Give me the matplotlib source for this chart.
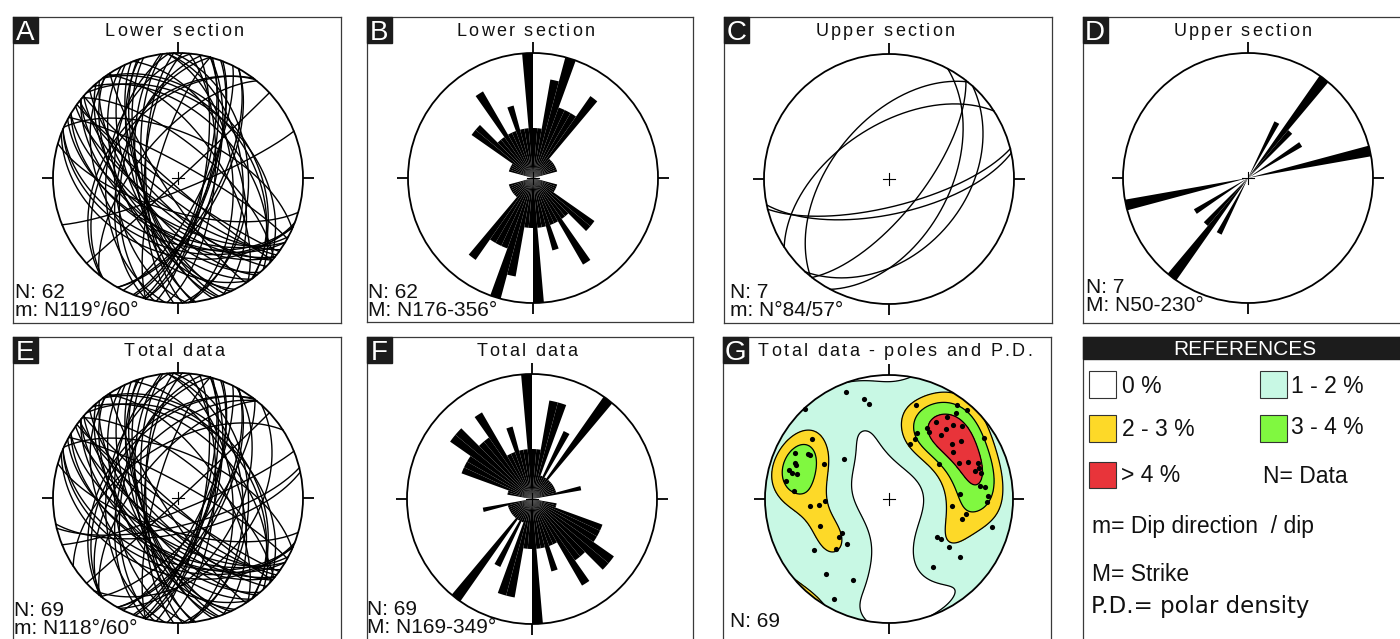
import numpy as np
import matplotlib
matplotlib.use('Agg')
import matplotlib.pyplot as plt
from matplotlib.patches import Circle, Rectangle, Wedge
from matplotlib.font_manager import FontProperties, findfont, get_font

plt.rcParams['font.family'] = ['Liberation Sans', 'DejaVu Sans']

# planes (dip direction / dip, degrees) - lower section
lower_dipdir = [158, 137, 116, 119, 119, 111, 110, 106, 105, 105, 100, 95,
                85, 85, 88, 69, 53, 54, 43, 47, 56, 40, 24, 29,
                196, 216, 221, 215, 218, 211, 208, 203, 203, 201, 211, 221, 219, 219, 225, 231,
                229, 234, 237, 235,
                243, 245, 248, 252, 254, 251, 262, 263, 266, 268, 272, 276, 281, 285, 285, 308,
                307, 309]
lower_dip = [82, 89, 73, 64, 62, 70, 69, 73, 70, 66, 73, 66,
             54, 47, 43, 50, 42, 39, 41, 49, 62, 68, 61, 81,
             68, 83, 85, 70, 77, 62, 55, 48, 44, 39, 53, 68, 56, 62, 72, 64,
             57, 54, 80, 41,
             53, 60, 66, 62, 66, 66, 63, 67, 48, 69, 68, 42, 53, 51, 75, 41,
             44, 63]

# upper section
upper_dipdir = [166, 168, 327, 309, 128, 132, 118]
upper_dip = [72, 67, 55, 52, 68, 40, 50]

# rose diagrams: strike counts in 5 deg bins, 0-180
bin_width = 5
strike_bins = list(range(0, 180, bin_width))
rose_lower = [2, 2, 4, 5, 3, 3, 3, 4, 1, 1, 1, 1, 1, 1, 1, 0, 0, 0,
              0, 0, 0, 1, 1, 1, 1, 3, 3, 2, 2, 4, 2, 2, 3, 2, 2, 5]
rose_upper = [0, 0, 0, 0, 0, 1, 0, 2, 1, 0, 0, 1, 0, 0, 0, 2, 0, 0,
              0, 0, 0, 0, 0, 0, 0, 0, 0, 0, 0, 0, 0, 0, 0, 0, 0, 0]
rose_total = [2, 2, 4, 4, 1, 3, 1, 5, 1, 1, 1, 1, 1, 1, 1, 2, 0, 0,
              0, 0, 1, 1, 3, 3, 3, 4, 4, 3, 3, 4, 2, 2, 3, 2, 2, 5]

# pole density classes (contour thresholds of the smoothed density)
pd_levels = [0.45, 1.25, 1.8, 2.45]
pd_colors = ['white', '#c8f8e4', '#fdd928', '#80f840', '#e8343a']
pd_labels = ['0 %', '1 - 2 %', '2 - 3 %', '3 - 4 %', '> 4 %']
KAPPA = 15

total_dipdir = lower_dipdir + upper_dipdir
total_dip = lower_dip + upper_dip

W, H, DPI = 1400, 639, 100
fig = plt.figure(figsize=(W / DPI, H / DPI), dpi=DPI)


def add_panel(box, center, R=125):
    x0, y0, x1, y1 = box
    cx, cy = center
    ax = fig.add_axes([x0 / W, 1 - y1 / H, (x1 - x0) / W, (y1 - y0) / H])
    ax.set_xlim((x0 - cx) / R, (x1 - cx) / R)
    ax.set_ylim((cy - y1) / R, (cy - y0) / R)
    ax.set_xticks([])
    ax.set_yticks([])
    for sp in ax.spines.values():
        sp.set_color('#3a3a3a')
        sp.set_linewidth(0.9)
    return ax


def net_frame(ax):
    ax.add_patch(Circle((0, 0), 1, fill=False, ec='black', lw=1.3, zorder=6))
    for az in np.radians([0, 90, 180, 270]):
        ax.plot([np.sin(az), 1.09 * np.sin(az)], [np.cos(az), 1.09 * np.cos(az)],
                color='black', lw=1.3, solid_capstyle='butt', zorder=6)
    ax.plot([-0.05, 0.05], [0, 0], color='black', lw=0.8, zorder=6)
    ax.plot([0, 0], [-0.05, 0.05], color='black', lw=0.8, zorder=6)


def great_circle(dd, dip, n=181):
    # equal-area (Schmidt) lower hemisphere
    t = np.linspace(0, np.pi, n)
    d, a = np.radians(dd), np.radians(dip)
    sx, sy = np.sin(d - np.pi / 2), np.cos(d - np.pi / 2)
    vx, vy, vz = np.cos(a) * np.sin(d), np.cos(a) * np.cos(d), -np.sin(a)
    x = np.cos(t) * sx + np.sin(t) * vx
    y = np.cos(t) * sy + np.sin(t) * vy
    z = np.sin(t) * vz
    f = 1 / np.sqrt(1 - z)
    return x * f, y * f


def pole_vectors(dd, dip):
    d, a = np.radians(dd), np.radians(dip)
    return np.column_stack([-np.sin(a) * np.sin(d), -np.sin(a) * np.cos(d), -np.cos(a)])


def planes(ax, dd, dip):
    for a, b in zip(dd, dip):
        x, y = great_circle(a, b)
        ax.plot(x, y, color='black', lw=1.0, zorder=4)
    net_frame(ax)


def rose(ax, counts):
    counts = np.asarray(counts, float)
    top = counts.max()
    for lo, c in zip(strike_bins, counts):
        if c == 0:
            continue
        for a0 in (lo, lo + 180):
            ax.add_patch(Wedge((0, 0), c / top, 90 - a0 - bin_width, 90 - a0,
                               fc='black', ec='none', zorder=3))
    net_frame(ax)


def density(ax, dd, dip):
    P = pole_vectors(dd, dip)
    g = np.linspace(-1.03, 1.03, 261)
    X, Y = np.meshgrid(g, g)
    R2 = np.clip(X ** 2 + Y ** 2, 0, 1.99)
    s = np.sqrt(2 - R2)
    grid = np.stack([X * s, Y * s, R2 - 1], axis=-1).reshape(-1, 3)
    cosang = np.abs(grid @ P.T)
    dens = (KAPPA / len(P)) * np.exp(KAPPA * (cosang - 1)).sum(axis=1)
    dens = dens.reshape(X.shape)
    clip = Circle((0, 0), 1, transform=ax.transData)
    cf = ax.contourf(X, Y, dens, levels=[-1] + pd_levels + [1e9], colors=pd_colors, zorder=1)
    cf.set_clip_path(clip)
    cl = ax.contour(X, Y, dens, levels=pd_levels, colors='black', linewidths=0.9, zorder=2)
    cl.set_clip_path(clip)
    f = 1 / np.sqrt(1 - P[:, 2])
    ax.scatter(P[:, 0] * f, P[:, 1] * f, s=14, color='black', zorder=5, lw=0)
    net_frame(ax)


def spaced_title(xc, yb, s, size=13, gap=2.3):
    font = get_font(findfont(FontProperties(family='Liberation Sans')))
    font.set_size(size, DPI)
    adv = [font.load_char(ord(c)).linearHoriAdvance / 65536 for c in s]
    x = xc - (sum(adv) + gap * (len(s) - 1)) / 2
    for c, a in zip(s, adv):
        fig.text(x / W, 1 - yb / H, c, fontsize=size, ha='left', va='baseline', color='#111')
        x += a + gap


def letter(x0, y0, s, size=20):
    fig.patches.append(Rectangle((x0 / W, 1 - (y0 + 26) / H), 25 / W, 26 / H,
                                 transform=fig.transFigure, color='#1c1c1c', zorder=2))
    fig.text((x0 + 12.5) / W, 1 - (y0 + 23.5) / H, s, color='white', fontsize=size,
             ha='center', va='baseline', zorder=3)


def info(x, yb, s):
    # yb: baseline of the last line
    fig.text(x / W, 1 - yb / H, s, fontsize=15, ha='left', va='baseline', color='#111',
             linespacing=0.92)


# A
ax = add_panel((12.7, 16.7, 340.5, 322.5), (178, 178))
planes(ax, lower_dipdir, lower_dip)
letter(12.7, 16.7, 'A')
spaced_title(174, 36.5, 'Lower section')
info(15, 316, f'N: {len(lower_dip)}\nm: N119°/60°')

# B
ax = add_panel((366.7, 16.7, 693.3, 321.5), (533, 178))
rose(ax, rose_lower)
letter(366.7, 16.7, 'B')
spaced_title(525.5, 36.5, 'Lower section')
info(368, 316, f'N: {len(lower_dip)}\nM: N176-356°')

# C
ax = add_panel((724.3, 16.7, 1051.7, 322.5), (889, 179))
planes(ax, upper_dipdir, upper_dip)
letter(724.3, 16.7, 'C')
spaced_title(885, 36.5, 'Upper section')
info(730, 316, f'N: {len(upper_dip)}\nm: N°84/57°')

# D
ax = add_panel((1082.7, 16.7, 1412, 322.5), (1248, 178))
rose(ax, rose_upper)
letter(1082.7, 16.7, 'D')
spaced_title(1242.5, 36.5, 'Upper section')
info(1086, 311, f'N: {len(upper_dip)}\nM: N50-230°')

# E
ax = add_panel((12.7, 336.7, 340.5, 645), (178, 498))
planes(ax, total_dipdir, total_dip)
letter(12.7, 336.7, 'E')
spaced_title(174, 356, 'Total data')
info(14, 634, f'N: {len(total_dip)}\nm: N118°/60°')

# F
ax = add_panel((366.7, 336.7, 693.3, 645), (532, 499))
rose(ax, rose_total)
letter(366.7, 336.7, 'F')
spaced_title(526.7, 356, 'Total data')
info(367, 633, f'N: {len(total_dip)}\nM: N169-349°')

# G
ax = add_panel((723.3, 336.7, 1050.5, 645), (889, 499), R=124)
density(ax, total_dipdir, total_dip)
letter(723.3, 336.7, 'G')
spaced_title(895, 356, 'Total data - poles and P.D.')
info(730, 627, f'N: {len(total_dip)}')

# references
ax = add_panel((1082.7, 336.7, 1412, 645), (1248, 499))
fig.patches.append(Rectangle((1082.7 / W, 1 - 359.3 / H), 330 / W, 22.6 / H,
                             transform=fig.transFigure, color='#1c1c1c', zorder=2))
fig.text(1245 / W, 1 - 355 / H, 'REFERENCES', color='white', fontsize=15,
         ha='center', va='baseline', zorder=3)
swatch_pos = [(1089.3, 371, 1122, 393), (1260, 371, 1291, 393), (1089.3, 415, 1122, 436),
              (1260, 415, 1291, 434), (1089.3, 461.5, 1121, 482)]
for (sx, sy, tx, ty), col, lab in zip(swatch_pos, pd_colors, pd_labels):
    fig.patches.append(Rectangle((sx / W, 1 - (sy + 26.5) / H), 26.5 / W, 26.5 / H,
                                 transform=fig.transFigure, fc=col, ec='#333', lw=0.8, zorder=2))
    fig.text(tx / W, 1 - ty / H, lab, fontsize=16.5, ha='left', va='baseline', color='#111')
fig.text(1263 / W, 1 - 483 / H, 'N= Data', fontsize=16.5, ha='left', va='baseline', color='#111')
fig.text(1092 / W, 1 - 533 / H, 'm= Dip direction  / dip', fontsize=16.5, ha='left',
         va='baseline', color='#111')
fig.text(1092 / W, 1 - 581 / H, 'M= Strike', fontsize=16.5, ha='left', va='baseline', color='#111')
fig.text(1091 / W, 1 - 613.5 / H, 'P.D.= polar density', fontsize=16.5, ha='left',
         va='baseline', color='#111', family='DejaVu Sans')

fig.savefig('out.png', dpi=DPI)
